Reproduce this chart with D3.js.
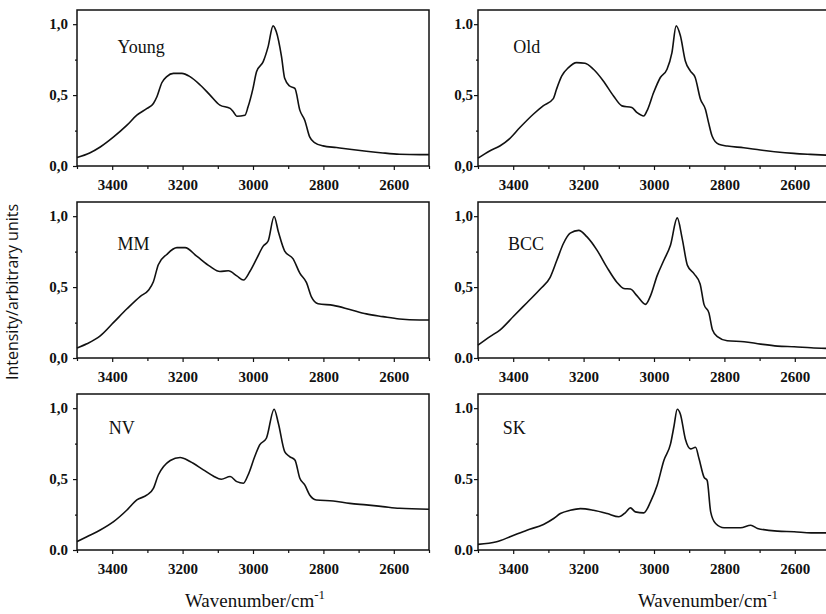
<!DOCTYPE html>
<html>
<head>
<meta charset="utf-8">
<script src="https://cdn.jsdelivr.net/npm/d3@7"></script>
<style>
  body { margin: 0; background: #fff; }
  svg { display: block; }
</style>
</head>
<body>
<div id="plot"></div>
<script>
// spectra: [wavenumber, intensity]
var young = [[3500,0.06],[3464,0.092],[3434,0.134],[3396,0.205],[3358,0.288],[3330,0.358],[3301,0.406],[3283,0.441],[3273,0.488],[3259,0.587],[3245,0.63],[3226,0.653],[3202,0.653],[3179,0.63],[3150,0.571],[3122,0.5],[3094,0.429],[3065,0.406],[3056,0.382],[3046,0.351],[3023,0.358],[3014,0.417],[3000,0.547],[2990,0.665],[2971,0.736],[2957,0.842],[2943,0.988],[2934,0.948],[2919,0.771],[2910,0.618],[2896,0.564],[2881,0.547],[2867,0.394],[2853,0.323],[2839,0.205],[2824,0.163],[2801,0.142],[2763,0.13],[2725,0.118],[2678,0.104],[2631,0.092],[2584,0.083],[2527,0.08],[2500,0.08]];
var old = [[3500,0.055],[3467,0.106],[3438,0.141],[3410,0.193],[3381,0.271],[3343,0.365],[3315,0.424],[3286,0.475],[3277,0.541],[3262,0.635],[3243,0.694],[3220,0.729],[3196,0.725],[3172,0.682],[3144,0.6],[3115,0.494],[3091,0.424],[3063,0.412],[3048,0.376],[3029,0.353],[3020,0.388],[3001,0.518],[2982,0.624],[2963,0.682],[2949,0.8],[2937,0.988],[2925,0.918],[2911,0.741],[2897,0.671],[2883,0.624],[2868,0.471],[2854,0.4],[2845,0.306],[2835,0.212],[2816,0.153],[2792,0.141],[2745,0.129],[2698,0.113],[2650,0.099],[2603,0.089],[2556,0.082],[2500,0.075]];
var mm = [[3500,0.07],[3472,0.1],[3434,0.156],[3396,0.251],[3358,0.347],[3320,0.435],[3297,0.478],[3283,0.538],[3269,0.658],[3245,0.73],[3216,0.778],[3193,0.778],[3160,0.718],[3122,0.646],[3094,0.61],[3070,0.615],[3046,0.579],[3027,0.55],[3009,0.61],[2990,0.699],[2971,0.789],[2957,0.825],[2940,0.998],[2928,0.89],[2910,0.754],[2886,0.699],[2867,0.598],[2848,0.531],[2834,0.431],[2815,0.383],[2772,0.371],[2725,0.342],[2678,0.311],[2631,0.292],[2584,0.275],[2527,0.268],[2500,0.268]];
var bcc = [[3500,0.091],[3466,0.151],[3437,0.199],[3399,0.294],[3361,0.39],[3323,0.486],[3295,0.569],[3276,0.689],[3257,0.809],[3238,0.88],[3214,0.9],[3191,0.856],[3162,0.761],[3134,0.641],[3105,0.533],[3086,0.49],[3067,0.486],[3048,0.438],[3024,0.378],[3010,0.438],[2991,0.581],[2972,0.689],[2953,0.797],[2934,0.988],[2920,0.844],[2905,0.653],[2886,0.593],[2869,0.522],[2858,0.378],[2844,0.318],[2834,0.199],[2820,0.151],[2792,0.122],[2744,0.115],[2697,0.098],[2649,0.084],[2602,0.079],[2554,0.072],[2500,0.067]];
var nv = [[3500,0.059],[3472,0.094],[3434,0.141],[3396,0.2],[3358,0.282],[3330,0.353],[3301,0.388],[3283,0.435],[3269,0.529],[3254,0.588],[3235,0.631],[3207,0.652],[3179,0.624],[3141,0.565],[3113,0.522],[3090,0.499],[3065,0.518],[3046,0.482],[3027,0.471],[3014,0.529],[2995,0.659],[2981,0.741],[2962,0.788],[2940,0.993],[2928,0.894],[2910,0.694],[2896,0.659],[2881,0.635],[2867,0.506],[2853,0.459],[2839,0.388],[2820,0.353],[2772,0.346],[2725,0.329],[2678,0.318],[2631,0.306],[2584,0.294],[2500,0.287]];
var sk = [[3500,0.04],[3447,0.058],[3409,0.093],[3361,0.14],[3314,0.18],[3285,0.222],[3266,0.257],[3238,0.28],[3209,0.292],[3172,0.28],[3133,0.257],[3100,0.234],[3081,0.264],[3067,0.297],[3053,0.269],[3029,0.262],[3010,0.339],[2991,0.456],[2972,0.631],[2953,0.748],[2943,0.876],[2934,0.993],[2925,0.958],[2911,0.783],[2896,0.713],[2882,0.724],[2872,0.643],[2858,0.514],[2849,0.491],[2839,0.269],[2825,0.187],[2801,0.157],[2754,0.157],[2725,0.175],[2706,0.152],[2649,0.133],[2602,0.129],[2554,0.121],[2500,0.121]];

var panelNames = ["Young", "Old", "MM", "BCC", "NV", "SK"];
var panelSeries = [young, old, mm, bcc, nv, sk];
// label anchor in data units [wavenumber, intensity]
var panelLabelAt = [[3385,0.8],[3400,0.8],[3385,0.76],[3415,0.76],[3410,0.82],[3430,0.82]];

var xTicks = [3400, 3200, 3000, 2800, 2600];
var xMinor = [3500, 3300, 3100, 2900, 2700, 2500];
var yTicks = [0, 0.5, 1.0];
var yMinor = [0.25, 0.75];
// tick labels as printed in each panel
var yTickLabels = [
  ["0,0", "0,5", "1,0"],
  ["0,0", "0,5", "1.0"],
  ["0,0", "0,5", "1,0"],
  ["0.0", "0,5", "1,0"],
  ["0.0", "0,5", "1,0"],
  ["0.0", "0.5", "1.0"]
];

var W = 826, H = 614;
var colLeft = [77, 478];
var rowTop = [10, 202, 394];
var pw = 352, ph = 156;

var svg = d3.select("#plot").append("svg")
  .attr("width", W)
  .attr("height", H)
  .style("font-family", "'Liberation Serif', serif");

svg.append("rect").attr("width", W).attr("height", H).attr("fill", "#fff");

panelSeries.forEach(function(series, i){
  var col = i % 2, row = Math.floor(i / 2);
  var left = colLeft[col], top = rowTop[row];

  var x = d3.scaleLinear().domain([3500, 2500]).range([0, pw]);
  var y = d3.scaleLinear().domain([0, 1.1]).range([ph, 0]);

  var g = svg.append("g").attr("transform", "translate(" + left + "," + top + ")");

  // minor ticks
  g.append("g")
    .attr("transform", "translate(0," + ph + ")")
    .call(d3.axisBottom(x).tickValues(xMinor).tickSize(3).tickFormat(""))
    .call(function(a){ a.select(".domain").remove(); });
  g.append("g")
    .call(d3.axisLeft(y).tickValues(yMinor).tickSize(2).tickFormat(""))
    .call(function(a){ a.select(".domain").remove(); });

  var xa = g.append("g")
    .attr("transform", "translate(0," + ph + ")")
    .call(d3.axisBottom(x).tickValues(xTicks).tickSize(4).tickPadding(9).tickFormat(d3.format("d")));
  xa.select(".domain").remove();
  xa.selectAll("text")
    .style("font-family", "'Liberation Serif', serif")
    .style("font-size", "15px")
    .style("font-weight", "bold")
    .attr("fill", "#111");

  var ya = g.append("g")
    .call(d3.axisLeft(y).tickValues(yTicks).tickSize(4)
      .tickPadding(col == 0 ? 5 : 1)
      .tickFormat(function(d, k){ return yTickLabels[i][k]; }));
  ya.select(".domain").remove();
  ya.selectAll("text")
    .style("font-family", "'Liberation Serif', serif")
    .style("font-size", "15px")
    .style("font-weight", "bold")
    .attr("fill", "#111");

  g.selectAll(".tick line").attr("stroke", "#111").attr("stroke-width", 1.2);

  // frame
  g.append("rect")
    .attr("width", pw).attr("height", ph)
    .attr("fill", "none")
    .attr("stroke", "#111")
    .attr("stroke-width", 1.5);

  var line = d3.line()
    .x(function(d){ return x(d[0]); })
    .y(function(d){ return y(d[1]); })
    .curve(d3.curveMonotoneX);

  g.append("path")
    .datum(series)
    .attr("d", line)
    .attr("fill", "none")
    .attr("stroke", "#111")
    .attr("stroke-width", 1.6);

  g.append("text")
    .attr("x", x(panelLabelAt[i][0]))
    .attr("y", y(panelLabelAt[i][1]))
    .style("font-size", "18px")
    .attr("fill", "#111")
    .text(panelNames[i]);
});

// axis titles
[255, 708].forEach(function(cx){
  var t = svg.append("text")
    .attr("x", cx)
    .attr("y", 607)
    .attr("text-anchor", "middle")
    .style("font-size", "19px")
    .attr("fill", "#111");
  t.append("tspan").text("Wavenumber/cm");
  t.append("tspan").attr("dy", -8).style("font-size", "13px").text("-1");
});

svg.append("text")
  .attr("transform", "translate(18,292) rotate(-90)")
  .attr("text-anchor", "middle")
  .style("font-family", "'Open Sans', sans-serif")
  .style("font-size", "16px")
  .attr("fill", "#111")
  .text("Intensity/arbitrary units");
</script>
</body>
</html>
